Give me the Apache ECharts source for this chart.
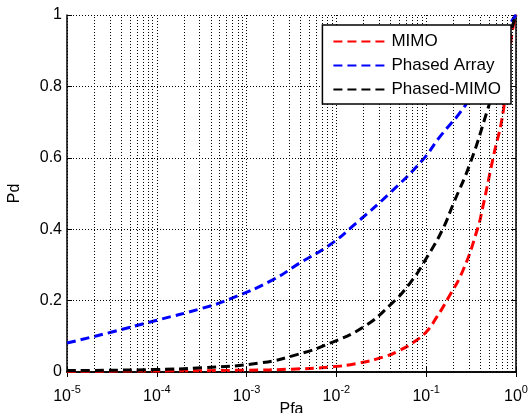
<!DOCTYPE html>
<html>
<head>
<meta charset="utf-8">
<script src="https://cdn.jsdelivr.net/npm/echarts@6/dist/echarts.min.js"></script>
<style>
  html, body { margin: 0; padding: 0; background: #fff; }
  #main { width: 532px; height: 413px; }
</style>
</head>
<body>
<div id="main"></div>
<script>
// Pfa given as log10 exponent, Pd
const blueLog = [-5, -4.5, -4, -3.5, -3.19, -2.71, -2.41, -2.08, -1.78, -1.41, -1.04, -0.86, -0.57, -0.3, -0.15, -0.04, 0]
const bluePd = [0.081, 0.112, 0.145, 0.178, 0.204, 0.258, 0.305, 0.355, 0.417, 0.5, 0.594, 0.655, 0.745, 0.855, 0.93, 0.986, 1.0]
const blackLog = [-5, -4, -3.5, -2.86, -2.42, -2.07, -1.7, -1.4, -1.18, -0.99, -0.82, -0.7, -0.51, -0.31, -0.15, -0.05, 0]
const blackPd = [0.004, 0.007, 0.012, 0.025, 0.05, 0.081, 0.126, 0.188, 0.249, 0.322, 0.398, 0.47, 0.585, 0.74, 0.87, 0.96, 1.0]
const redLog = [-5, -4, -3, -2.5, -2.07, -1.75, -1.48, -1.3, -1.15, -1.0, -0.88, -0.76, -0.59, -0.43, -0.37, -0.26, -0.14, -0.05, 0]
const redPd = [0.002, 0.003, 0.005, 0.008, 0.014, 0.025, 0.042, 0.06, 0.082, 0.112, 0.155, 0.205, 0.285, 0.4, 0.462, 0.594, 0.734, 0.94, 1.0]
const seriesNames = ['MIMO', 'Phased Array', 'Phased-MIMO']
const yTicks = [0, 0.2, 0.4, 0.6, 0.8, 1]

function toPairs(logs, pd) {
  return logs.map((e, i) => [Math.pow(10, e), pd[i]])
}

// minor log grid lines (2..9 x 10^k)
const minorLines = []
for (let k = -5; k < 0; k++) {
  for (let m = 2; m <= 9; m++) {
    const x = m * Math.pow(10, k)
    minorLines.push([{ coord: [x, 0] }, { coord: [x, 1] }])
  }
}

const dotted = { color: '#000', width: 1, type: [1, 2] }
const font = 'Liberation Sans, Arial, sans-serif'
const dash = [9, 5]

const myChart = echarts.init(document.getElementById('main'))
myChart.setOption({
  animation: false,
  backgroundColor: '#fff',
  grid: { left: 67, right: 16, top: 15, bottom: 41, containLabel: false, outerBoundsMode: 'none' },
  legend: {
    data: [seriesNames[0], seriesNames[1], seriesNames[2]],
    orient: 'vertical',
    right: 21,
    top: 25,
    z: 20,
    zlevel: 1,
    itemWidth: 53,
    itemHeight: 14,
    itemGap: 7,
    padding: [8, 10, 6, 10],
    backgroundColor: '#fff',
    borderColor: '#000',
    borderWidth: 1.5,
    borderRadius: 0,
    itemStyle: { opacity: 0 },
    textStyle: { fontFamily: font, fontSize: 17, color: '#000' }
  },
  xAxis: [
    {
      type: 'log',
      logBase: 10,
      min: 1e-5,
      max: 1,
      name: 'Pfa',
      nameLocation: 'middle',
      nameGap: 30,
      nameMoveOverlap: false,
      nameTextStyle: { fontFamily: font, fontSize: 16, color: '#000', verticalAlign: 'top' },
      axisLine: { lineStyle: { color: '#000', width: 1.5 } },
      axisTick: { inside: true, length: 5, lineStyle: { color: '#000' } },
      splitLine: { show: true, lineStyle: dotted },
      axisLabel: {
        margin: 12,
        color: '#000',
        formatter: function (v) {
          return '{b|10}{s|' + Math.round(Math.log10(v)) + '}'
        },
        rich: {
          b: { fontFamily: font, fontSize: 16, color: '#000' },
          s: { fontFamily: font, fontSize: 11, color: '#000', padding: [0, 0, 14, 0] }
        }
      }
    },
    {
      type: 'log',
      logBase: 10,
      min: 1e-5,
      max: 1,
      position: 'top',
      axisLine: { show: true, lineStyle: { color: '#000', width: 1.5 } },
      axisTick: { inside: true, length: 5, lineStyle: { color: '#000' } },
      axisLabel: { show: false },
      splitLine: { show: false }
    }
  ],
  yAxis: [
    {
      type: 'value',
      min: 0,
      max: 1,
      interval: 0.2,
      name: 'Pd',
      nameLocation: 'middle',
      nameGap: 44,
      nameTextStyle: { fontFamily: font, fontSize: 16, color: '#000' },
      axisLine: { show: true, lineStyle: { color: '#000', width: 1.5 } },
      axisTick: { show: true, inside: true, length: 5, lineStyle: { color: '#000' } },
      splitLine: { show: true, lineStyle: dotted },
      axisLabel: {
        fontFamily: font,
        fontSize: 16,
        color: '#000',
        margin: 5,
        formatter: function (v) {
          return yTicks.indexOf(v) >= 0 ? String(v) : ''
        }
      }
    },
    {
      type: 'value',
      min: 0,
      max: 1,
      interval: 0.2,
      position: 'right',
      axisLine: { show: true, lineStyle: { color: '#000', width: 1.5 } },
      axisTick: { show: true, inside: true, length: 5, lineStyle: { color: '#000' } },
      axisLabel: { show: false },
      splitLine: { show: false }
    }
  ],
  series: [
    {
      // minor grid
      type: 'line',
      data: [],
      silent: true,
      z: 1,
      markLine: {
        silent: true,
        symbol: 'none',
        label: { show: false },
        lineStyle: dotted,
        emphasis: { disabled: true },
        data: minorLines
      }
    },
    {
      name: seriesNames[0],
      type: 'line',
      data: toPairs(redLog, redPd),
      smooth: 0.5,
      symbol: 'none',
      z: 2,
      itemStyle: { color: '#ff0000' },
      lineStyle: { color: '#ff0000', width: 3, type: dash }
    },
    {
      name: seriesNames[1],
      type: 'line',
      data: toPairs(blueLog, bluePd),
      smooth: 0.5,
      symbol: 'none',
      z: 2,
      itemStyle: { color: '#0000ff' },
      lineStyle: { color: '#0000ff', width: 3, type: dash }
    },
    {
      name: seriesNames[2],
      type: 'line',
      data: toPairs(blackLog, blackPd),
      smooth: 0.5,
      symbol: 'none',
      z: 2,
      itemStyle: { color: '#000' },
      lineStyle: { color: '#000', width: 3, type: dash }
    }
  ]
})
</script>
</body>
</html>
